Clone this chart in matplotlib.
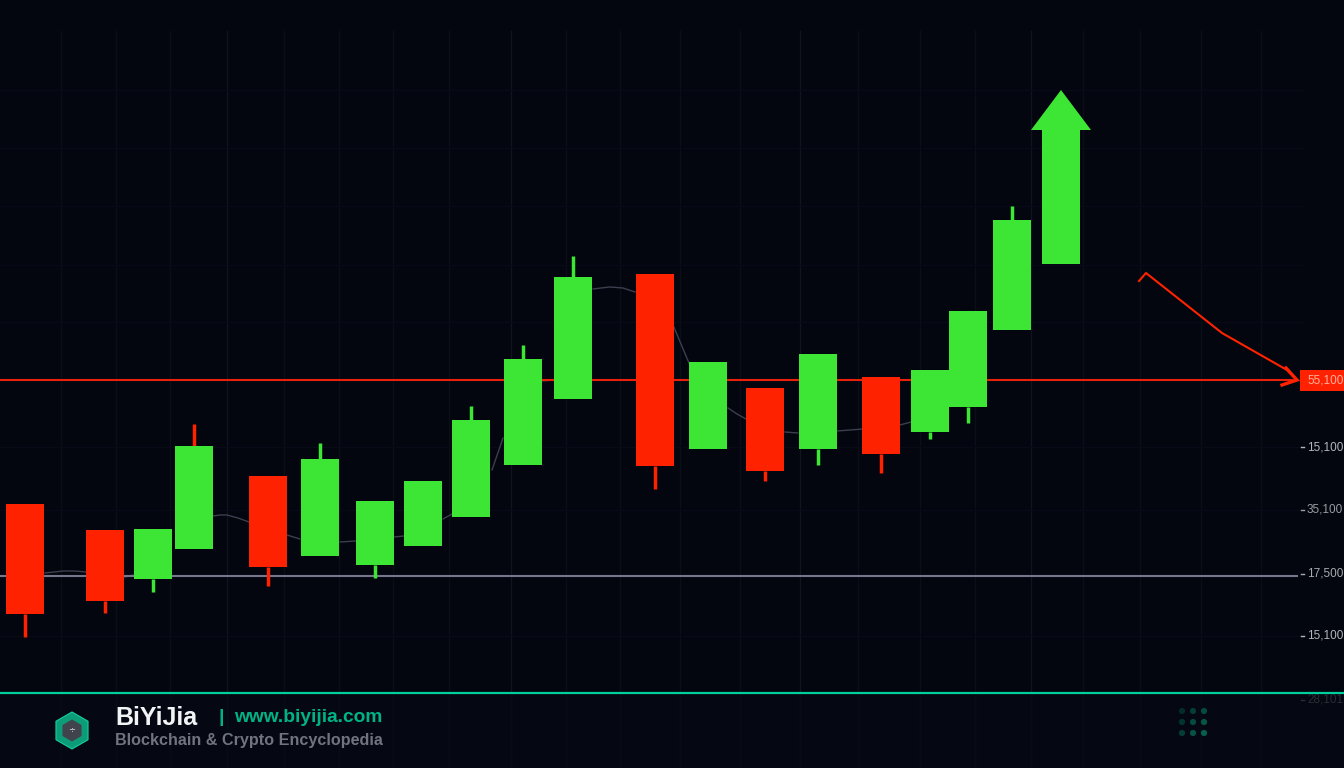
import matplotlib
matplotlib.use('Agg')
import matplotlib.pyplot as plt
from matplotlib.patches import Polygon, Rectangle, RegularPolygon

nan = float('nan')

# candle centres and prices, read in picture rows (smaller = higher)
centers = [25, 105, 153, 194, 268, 320, 375, 423, 471, 523, 573, 655, 708, 765, 818, 881, 930, 968, 1012]
body_top = [504, 530, 529, 446, 476, 459, 501, 481, 420, 359, 277, 274, 362, 388, 354, 377, 370, 311, 220]
body_bot = [614, 601, 579, 549, 567, 556, 565, 546, 517, 465, 399, 466, 449, 471, 449, 454, 432, 407, 330]
wick_hi = [504, 530, 529, 424, 476, 443, 501, 481, 406, 345, 256, 274, 362, 388, 354, 377, 370, 311, 206]
wick_lo = [637, 613, 592, 549, 586, 556, 578, 546, 517, 465, 399, 489, 449, 481, 465, 473, 439, 423, 330]
colors = ['r', 'r', 'g', 'g', 'r', 'g', 'g', 'g', 'g', 'g', 'g', 'r', 'g', 'r', 'g', 'r', 'g', 'g', 'g']

# thin line, only seen in the gaps between candles
curve_x = [45, 54, 63, 75, 86, nan, 125, 133, nan, 213, 220, 227, 238, 249, nan, 287, 300, nan, 340, 356, nan,
           394, 404, nan, 443, 452, nan, 492, 503, nan, 542, 554, nan, 593, 601, 610, 623, 635, nan,
           673, 689, nan, 728, 737, 746, nan, 785, 798, nan, 837, 863, nan, 900, 911]
curve_y = [573, 572, 571, 571, 572, nan, 577, 575, nan, 516, 515, 515, 518, 522, nan, 535, 539, nan, 542, 541, nan,
           537, 536, nan, 519, 514, nan, 470, 438, nan, 381, 380, nan, 289, 288, 287, 288, 292, nan,
           325, 363, nan, 408, 414, 419, nan, 432, 433, nan, 431, 429, nan, 425, 422]

support_y = 576
resistance_y = 380
axis_rows = [447, 510, 574, 636, 700]
axis_labels = ['15,100', '35,100', '17,500', '15,100', '28,101']
axis_colors = ['#b4b6bc', '#9a9ca3', '#a8aab0', '#b4b6bc', '#2b2d33']

grid_x = [61, 116, 170, 284, 339, 393, 449, 566, 620, 680, 740, 858, 920, 975, 1083, 1140, 1201, 1261]
major_x = [227, 511, 800, 1031]
grid_y = [90, 148, 206, 265, 322, 447, 510, 636]

arrow_x = [1139, 1146, 1184, 1222, 1287, 1296]
arrow_y = [281, 273, 303, 333, 370, 379]
head_x = [1286, 1297, 1282]
head_y = [368, 380, 385]

dot_x = [1182, 1193, 1204]
dot_y = [711, 722, 733]
dot_cols = [['#032c28', '#043d35', '#054a3e'],
            ['#033430', '#054a3e', '#065545'],
            ['#043d35', '#055345', '#06604d']]

GREEN = '#3de535'
RED = '#ff2200'
TEAL = '#00b386'
BG = '#03060f'

fig = plt.figure(figsize=(13.44, 7.68), dpi=100, facecolor=BG)
ax = fig.add_axes([0, 0, 1, 1])
ax.set_xlim(0, 1344)
ax.set_ylim(768, 0)
ax.axis('off')

ax.vlines(grid_x, 30, 768, color='#0a0e18', lw=1, zorder=1)
ax.vlines(major_x, 30, 768, color='#10141e', lw=1, zorder=1)
ax.hlines(grid_y, 0, 1305, color='#080b15', lw=1, zorder=1)

ax.plot(curve_x, curve_y, color='#3b3f4e', lw=1, zorder=2)
ax.plot([0, 1297], [support_y, support_y], color='#76768c', lw=1.5, zorder=2)
ax.plot([0, 1292], [resistance_y, resistance_y], color='#e8200c', lw=1.5, zorder=2)

for c, t, b, hi, lo, k in zip(centers, body_top, body_bot, wick_hi, wick_lo, colors):
    col = GREEN if k == 'g' else RED
    wick = RED if c == 194 else col
    ax.plot([c, c], [hi, t], color=wick, lw=2.5, zorder=3, solid_capstyle='butt')
    ax.plot([c, c], [b, lo], color=col, lw=2.5, zorder=3, solid_capstyle='butt')
    ax.add_patch(Rectangle((c - 19, t), 38, b - t, fc=col, ec='none', zorder=4))

# big up arrow
ax.add_patch(Polygon([(1042, 264), (1080, 264), (1080, 130), (1091, 130), (1061, 90),
                      (1031, 130), (1042, 130)], fc=GREEN, ec='none', zorder=4))

# red hand-drawn arrow into the price tag
ax.plot(arrow_x, arrow_y, color=RED, lw=1.5, zorder=5)
ax.plot(head_x, head_y, color=RED, lw=2.4, zorder=5, solid_joinstyle='miter')

ax.add_patch(Rectangle((1300, 370), 44, 21, fc=RED, ec='none', zorder=5))
ax.text(1307, 380.5, '55,100', color='#ffb0a0', fontsize=8.5, family='Liberation Sans',
        va='center', zorder=6)

# footer band
ax.add_patch(Rectangle((0, 693), 1344, 75, fc='#060a14', ec='none', alpha=0.75, zorder=6))
ax.plot([0, 1344], [693, 693], color='#00cf9c', lw=1.6, zorder=7)

for row, lab, col in zip(axis_rows, axis_labels, axis_colors):
    ax.text(1307, row, lab, color=col, fontsize=8.5, family='Liberation Sans', va='center', zorder=8)
    ax.plot([1301, 1304], [row, row], color=col, lw=1, zorder=8)

ax.add_patch(RegularPolygon((72, 730.5), 6, radius=18.5, fc='#0d9c78', ec='#14d0a2', lw=0.8, zorder=7))
ax.add_patch(RegularPolygon((72, 730.5), 6, radius=11, fc='#40424c', ec='none', zorder=8))
ax.text(72, 730, '÷', color='#d8d8d8', fontsize=6, ha='center', va='center', zorder=9)

ax.text(115, 718, 'BiYiJia', color='#f2f3f5', fontsize=18, fontweight='bold', family='Liberation Sans',
        va='center', zorder=8)
ax.text(219, 717, '|', color=TEAL, fontsize=14, fontweight='bold', family='Liberation Sans',
        va='center', zorder=8)
ax.text(234, 718, 'www.biyijia.com', color=TEAL, fontsize=13.8, fontweight='bold', family='Liberation Sans',
        va='center', zorder=8)
ax.text(115, 741, 'Blockchain & Crypto Encyclopedia', color='#70747f', fontsize=11.6, fontweight='bold',
        family='Liberation Sans', va='center', zorder=8)

for dy, row_cols in zip(dot_y, dot_cols):
    ax.scatter(dot_x, [dy] * 3, s=20, color=row_cols, linewidths=0, zorder=8)

plt.savefig('out.png', dpi=100, facecolor=BG)
